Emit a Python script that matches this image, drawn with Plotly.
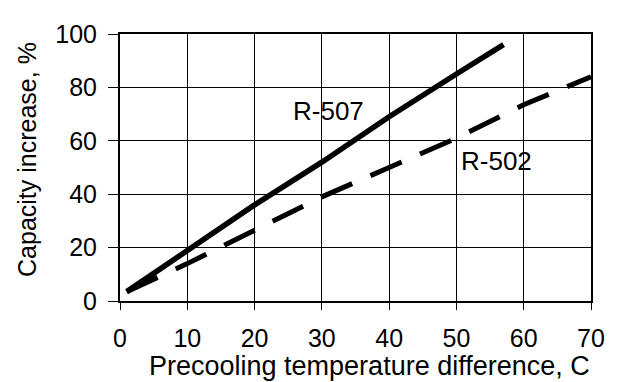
import plotly.graph_objects as go

r507_x = [1, 10, 20, 30, 40, 50, 57]
r507_y = [3.5, 19, 36, 52, 69, 85, 96]
r502_x = [1, 10, 20, 30, 40, 50, 60, 70]
r502_y = [3.5, 14, 26.5, 39, 50, 61, 73.5, 84]
x_ticks = [0, 10, 20, 30, 40, 50, 60, 70]
y_ticks = [0, 20, 40, 60, 80, 100]

font = "Liberation Sans, Arial, sans-serif"

fig = go.Figure()
fig.add_trace(go.Scatter(x=r507_x, y=r507_y, mode="lines",
                         line=dict(color="black", width=5.5), showlegend=False))
fig.add_trace(go.Scatter(x=r502_x, y=r502_y, mode="lines",
                         line=dict(color="black", width=5, dash="34px,20px"), showlegend=False))

fig.add_annotation(x=31.0, y=71.2, text="R-507", showarrow=False,
                   font=dict(family=font, size=26, color="black"))
fig.add_annotation(x=55.9, y=52.5, text="R-502", showarrow=False,
                   font=dict(family=font, size=26, color="black"))
# axis titles placed as in the reference
fig.add_annotation(xref="paper", yref="paper", x=0.53, y=-0.243, yanchor="middle",
                   text="Precooling temperature difference, C", showarrow=False,
                   font=dict(family=font, size=27, color="black"))
fig.add_annotation(xref="paper", yref="paper", x=-0.197, y=0.529, xanchor="center",
                   yanchor="middle", textangle=-90,
                   text="Capacity increase, %", showarrow=False,
                   font=dict(family=font, size=25, color="black"))

# page body has an 8px margin, so the figure is sized to fit the 617x382 window
fig.update_layout(
    width=609, height=374,
    margin=dict(l=112, r=20, t=13, b=81),
    plot_bgcolor="white", paper_bgcolor="white",
    font=dict(family=font, size=25, color="black"),
    xaxis=dict(range=[0, 70], tickvals=x_ticks, showgrid=True, gridcolor="black", gridwidth=1,
               showline=True, linecolor="black", linewidth=2, mirror=True,
               ticks="outside", ticklen=7, tickcolor="black", ticklabelstandoff=7,
               ticklabeloverflow="allow",
               zeroline=False, tickfont=dict(size=25)),
    yaxis=dict(range=[0, 100], tickvals=y_ticks, showgrid=True, gridcolor="black", gridwidth=1,
               showline=True, linecolor="black", linewidth=2, mirror=True,
               ticks="outside", ticklen=10, tickcolor="black", ticklabelstandoff=6,
               ticklabeloverflow="allow",
               zeroline=False, tickfont=dict(size=25)),
)

fig.write_html("out.html")
